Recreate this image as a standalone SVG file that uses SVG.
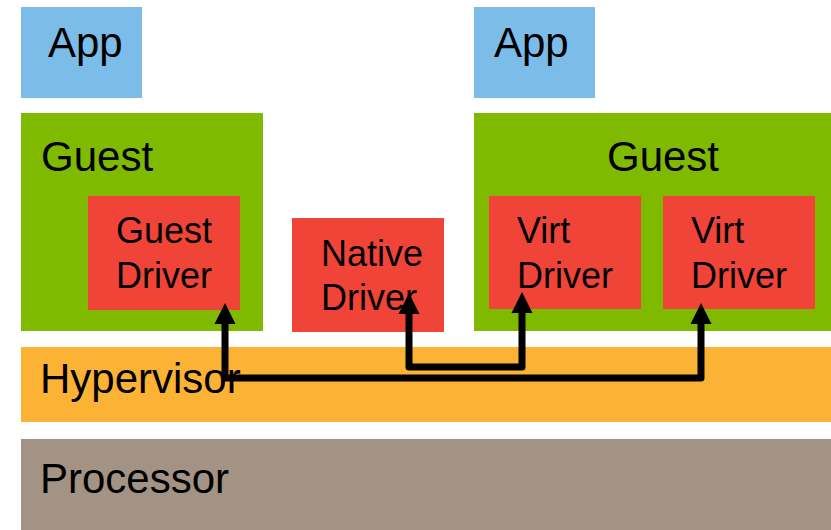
<svg xmlns="http://www.w3.org/2000/svg" width="831" height="530" viewBox="0 0 831 530">
  <style>
    text { font-family: "Liberation Sans", Arial, sans-serif; fill: #000; }
    .big { font-size: 42px; }
    .small { font-size: 36px; }
    .app { fill: #7bbde8; }
    .guest { fill: #7fba00; }
    .drv { fill: #f04438; }
    .hyp { fill: #fcb235; }
    .cpu { fill: #a39385; }
    .wire { fill: none; stroke: #000; stroke-width: 7; stroke-linejoin: round; }
  </style>
  <defs>
    <marker id="head" markerUnits="userSpaceOnUse" markerWidth="22" markerHeight="22" refX="0" refY="10.5" orient="auto-start-reverse" overflow="visible">
      <path d="M0,0 L21,10.5 L0,21 z" fill="#000"/>
    </marker>
  </defs>

  <g id="app-left">
    <rect class="app" x="21" y="7" width="121" height="91"/>
    <text class="big" x="48" y="57">App</text>
  </g>
  <g id="app-right">
    <rect class="app" x="474" y="7" width="121" height="91"/>
    <text class="big" x="494" y="57">App</text>
  </g>

  <g id="guest-left">
    <rect class="guest" x="21" y="113" width="242" height="218"/>
    <text class="big" x="41" y="171">Guest</text>
  </g>
  <g id="guest-driver">
    <rect class="drv" x="88" y="196" width="152" height="114"/>
    <text class="small" x="116" y="243">Guest</text>
    <text class="small" x="116" y="288">Driver</text>
  </g>

  <g id="native-driver">
    <rect class="drv" x="292" y="218" width="152" height="114"/>
    <text class="small" x="321" y="266">Native</text>
    <text class="small" x="321" y="310">Driver</text>
  </g>

  <g id="guest-right">
    <rect class="guest" x="474" y="113" width="357" height="218"/>
    <text class="big" x="663" y="171" text-anchor="middle">Guest</text>
  </g>
  <g id="virt-driver-1">
    <rect class="drv" x="489" y="196" width="152" height="113"/>
    <text class="small" x="517" y="243">Virt</text>
    <text class="small" x="517" y="288">Driver</text>
  </g>
  <g id="virt-driver-2">
    <rect class="drv" x="663" y="196" width="152" height="113"/>
    <text class="small" x="691" y="243">Virt</text>
    <text class="small" x="691" y="288">Driver</text>
  </g>

  <g id="hypervisor">
    <rect class="hyp" x="21" y="347" width="810" height="75"/>
    <text class="big" x="40" y="393">Hypervisor</text>
  </g>

  <g id="processor">
    <rect class="cpu" x="21" y="439" width="810" height="91"/>
    <text class="big" x="40" y="493">Processor</text>
  </g>

  <g id="connectors">
    <path class="wire" d="M225,324 V378 H701 V324" marker-start="url(#head)" marker-end="url(#head)"/>
    <path class="wire" d="M409,314 V367 H522 V313" marker-start="url(#head)" marker-end="url(#head)"/>
  </g>
</svg>
